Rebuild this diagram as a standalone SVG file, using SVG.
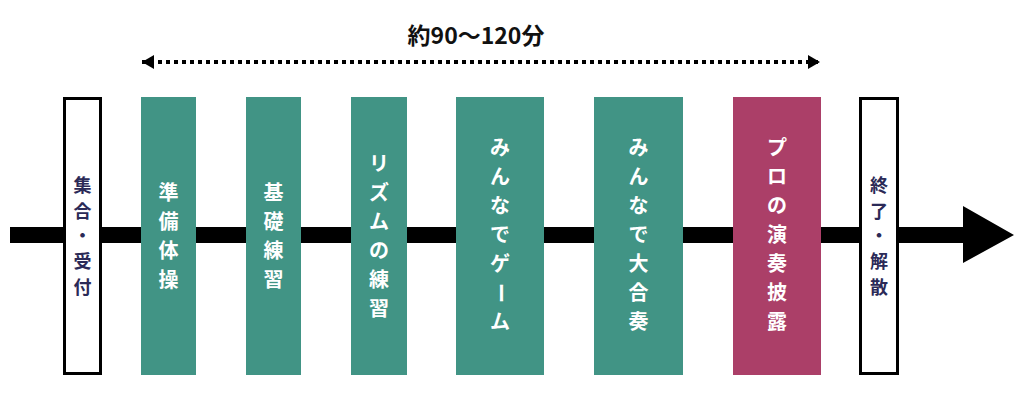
<svg xmlns="http://www.w3.org/2000/svg" width="1024" height="400" viewBox="0 0 1024 400">
<style>
  .green { fill: #419485; }
  .pink { fill: #AB3F68; }
  .wbox { fill: #ffffff; stroke: #000000; stroke-width: 3; }
  .lbl { font-family: "Noto Sans CJK JP", "Noto Sans", sans-serif; font-weight: bold; text-anchor: middle; }
  .wt { fill: #ffffff; font-size: 20px; }
  .dk { fill: #2b2a57; font-size: 18px; }
  .title { font-family: "Noto Sans CJK JP", "Noto Sans", sans-serif; font-weight: bold; font-size: 23px; fill: #111111; text-anchor: middle; }
</style>
<defs>
  <marker id="dotHead" viewBox="0 0 12 14" refX="12" refY="7" markerWidth="12" markerHeight="14" markerUnits="userSpaceOnUse" orient="auto-start-reverse">
    <path d="M0,0 L12,7 L0,14 Z" fill="#000"/>
  </marker>
</defs>
<rect width="1024" height="400" fill="#ffffff"/>

<g id="connectors">
  <path id="timeline" d="M10,227 H963 V206 L1014,235 L963,263 V243 H10 Z" fill="#000000"/>
  <line id="duration" x1="142" y1="62" x2="820" y2="62" stroke="#000" stroke-width="4" stroke-dasharray="4 4" marker-start="url(#dotHead)" marker-end="url(#dotHead)"/>
</g>

<text id="duration-label" class="title" x="476" y="44">約90〜120分</text>

<g id="node-start">
  <rect class="wbox" x="64.5" y="98.5" width="36" height="275"/>
  <text class="lbl dk" x="82.5"><tspan x="82.5" y="192">集</tspan><tspan x="82.5" y="218">合</tspan><tspan x="82.5" y="242">・</tspan><tspan x="82.5" y="268">受</tspan><tspan x="82.5" y="294">付</tspan></text>
</g>

<g id="node-1">
  <rect class="green" x="141" y="97" width="55" height="278"/>
  <text class="lbl wt" x="168.5"><tspan x="168.5" y="200">準</tspan><tspan x="168.5" y="229">備</tspan><tspan x="168.5" y="258">体</tspan><tspan x="168.5" y="287">操</tspan></text>
</g>

<g id="node-2">
  <rect class="green" x="246" y="97" width="55" height="278"/>
  <text class="lbl wt" x="273.5"><tspan x="273.5" y="200">基</tspan><tspan x="273.5" y="229">礎</tspan><tspan x="273.5" y="258">練</tspan><tspan x="273.5" y="287">習</tspan></text>
</g>

<g id="node-3">
  <rect class="green" x="351" y="97" width="56" height="278"/>
  <text class="lbl wt" x="379"><tspan x="379" y="171">リ</tspan><tspan x="379" y="200">ズ</tspan><tspan x="379" y="229">ム</tspan><tspan x="379" y="258">の</tspan><tspan x="379" y="287">練</tspan><tspan x="379" y="316">習</tspan></text>
</g>

<g id="node-4">
  <rect class="green" x="456" y="97" width="88" height="278"/>
  <text class="lbl wt" x="500"><tspan x="500" y="155">み</tspan><tspan x="500" y="184">ん</tspan><tspan x="500" y="213">な</tspan><tspan x="500" y="242">で</tspan><tspan x="500" y="271">ゲ</tspan></text>
  <text class="lbl wt" x="500" y="300" transform="rotate(90 500 293)">ー</text>
  <text class="lbl wt" x="500" y="329">ム</text>
</g>

<g id="node-5">
  <rect class="green" x="594" y="97" width="89" height="278"/>
  <text class="lbl wt" x="638.5"><tspan x="638.5" y="155">み</tspan><tspan x="638.5" y="184">ん</tspan><tspan x="638.5" y="213">な</tspan><tspan x="638.5" y="242">で</tspan><tspan x="638.5" y="271">大</tspan><tspan x="638.5" y="300">合</tspan><tspan x="638.5" y="329">奏</tspan></text>
</g>

<g id="node-6">
  <rect class="pink" x="733" y="97" width="88" height="278"/>
  <text class="lbl wt" x="777"><tspan x="777" y="155">プ</tspan><tspan x="777" y="184">ロ</tspan><tspan x="777" y="213">の</tspan><tspan x="777" y="242">演</tspan><tspan x="777" y="271">奏</tspan><tspan x="777" y="300">披</tspan><tspan x="777" y="329">露</tspan></text>
</g>

<g id="node-end">
  <rect class="wbox" x="860.5" y="98.5" width="37" height="275"/>
  <text class="lbl dk" x="879"><tspan x="879" y="192">終</tspan><tspan x="879" y="218">了</tspan><tspan x="879" y="242">・</tspan><tspan x="879" y="268">解</tspan><tspan x="879" y="294">散</tspan></text>
</g>
</svg>
